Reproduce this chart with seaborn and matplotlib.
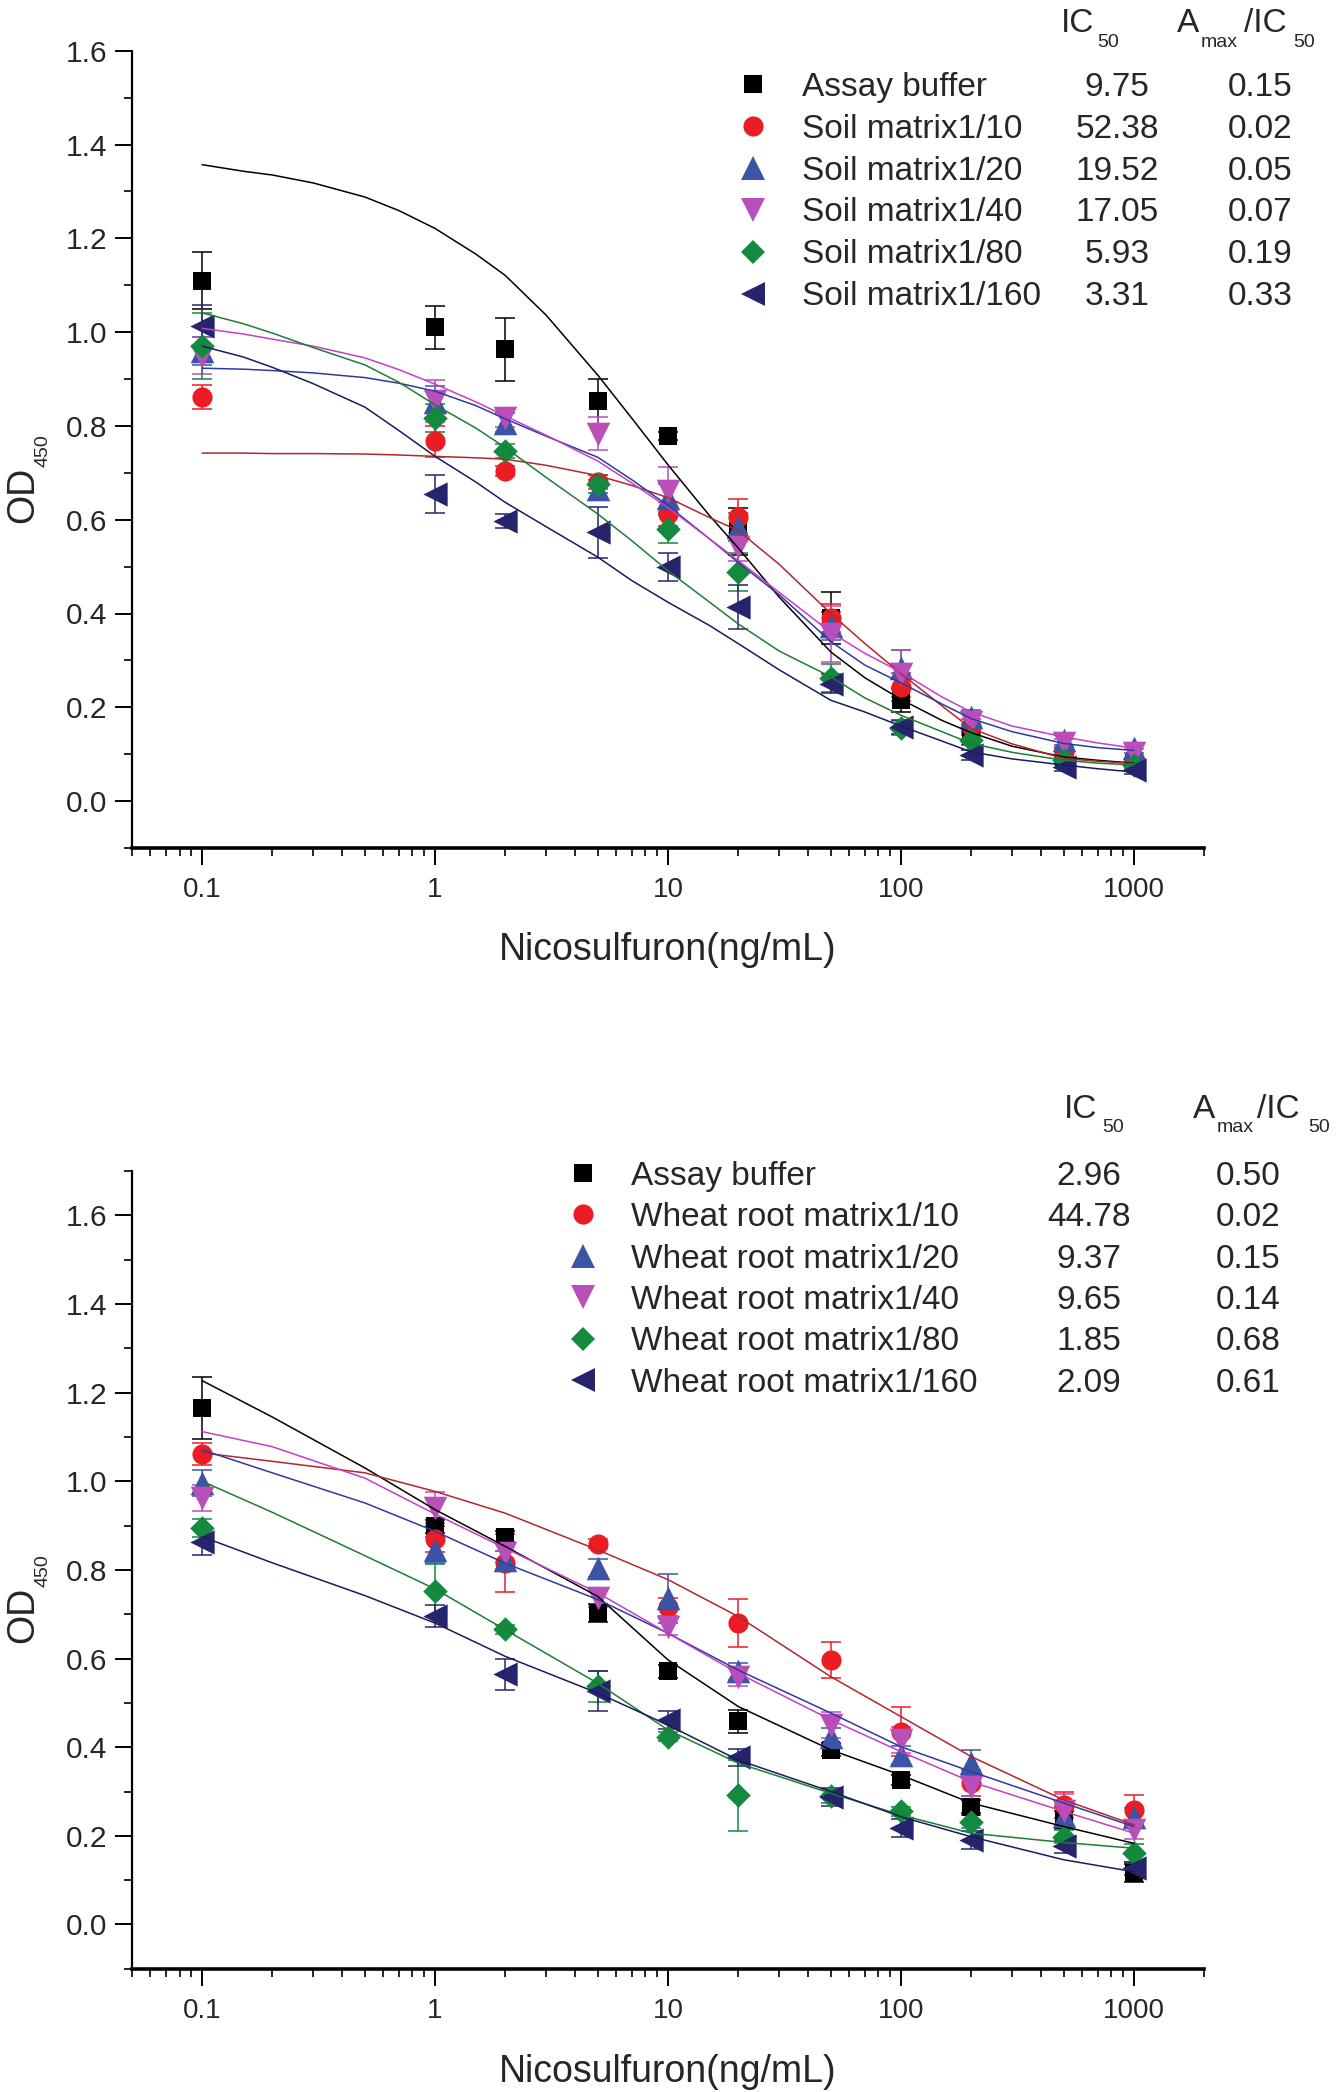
import numpy as np
import matplotlib
matplotlib.use("Agg")
import matplotlib.pyplot as plt
import seaborn as sns
from matplotlib.lines import Line2D
from matplotlib.ticker import FixedLocator, FixedFormatter, LogLocator, MultipleLocator, NullFormatter

# ---------------- data ----------------
conc = [0.1, 1, 2, 5, 10, 20, 50, 100, 200, 500, 1000]
soil_fit_conc = [0.1, 0.15, 0.2, 0.3, 0.5, 0.7, 1, 1.5, 2, 3, 5, 7, 10, 15, 20, 30,
                 50, 70, 100, 150, 200, 300, 500, 700, 1000]
wheat_fit_conc = [0.1, 0.2, 0.5, 1, 2, 5, 10, 20, 50, 100, 200, 500, 1000]
x_tick_values = [0.1, 1, 10, 100, 1000]
x_tick_labels = ["0.1", "1", "10", "100", "1000"]
y_tick_values = [0.0, 0.2, 0.4, 0.6, 0.8, 1.0, 1.2, 1.4, 1.6]
y_tick_labels = ["0.0", "0.2", "0.4", "0.6", "0.8", "1.0", "1.2", "1.4", "1.6"]

# Top panel: soil matrix
soil_series = ["Assay buffer", "Soil matrix1/10", "Soil matrix1/20",
               "Soil matrix1/40", "Soil matrix1/80", "Soil matrix1/160"]
soil_ic50 = ["9.75", "52.38", "19.52", "17.05", "5.93", "3.31"]
soil_ratio = ["0.15", "0.02", "0.05", "0.07", "0.19", "0.33"]

soil_mean_buffer = [1.110, 1.010, 0.963, 0.853, 0.778, 0.575, 0.390, 0.215, 0.138, 0.088, 0.081]
soil_err_buffer = [0.060, 0.045, 0.067, 0.048, 0.008, 0.050, 0.055, 0.025, 0.012, 0.008, 0.008]
soil_fit_buffer = [1.357, 1.343, 1.335, 1.318, 1.288, 1.259, 1.221, 1.166, 1.121, 1.036, 0.908,
                   0.816, 0.717, 0.610, 0.540, 0.435, 0.318, 0.263, 0.217, 0.172, 0.146,
                   0.117, 0.094, 0.087, 0.081]

soil_mean_10 = [0.862, 0.767, 0.704, 0.680, 0.612, 0.605, 0.390, 0.243, 0.160, 0.105, 0.084]
soil_err_10 = [0.025, 0.033, 0.010, 0.015, 0.025, 0.040, 0.030, 0.030, 0.015, 0.010, 0.008]
soil_fit_10 = [0.742, 0.742, 0.741, 0.741, 0.740, 0.738, 0.735, 0.732, 0.729, 0.716, 0.694,
               0.673, 0.647, 0.605, 0.577, 0.505, 0.400, 0.336, 0.272, 0.203, 0.155,
               0.122, 0.091, 0.085, 0.080]

soil_mean_20 = [0.960, 0.850, 0.807, 0.665, 0.647, 0.584, 0.374, 0.283, 0.180, 0.130, 0.113]
soil_err_20 = [0.030, 0.035, 0.020, 0.020, 0.030, 0.030, 0.030, 0.040, 0.015, 0.010, 0.010]
soil_fit_20 = [0.923, 0.921, 0.918, 0.913, 0.903, 0.891, 0.874, 0.843, 0.815, 0.778, 0.733,
               0.685, 0.630, 0.560, 0.509, 0.440, 0.340, 0.290, 0.252, 0.207, 0.176,
               0.148, 0.123, 0.114, 0.108]

soil_mean_40 = [0.950, 0.853, 0.817, 0.783, 0.662, 0.541, 0.357, 0.272, 0.169, 0.123, 0.102]
soil_err_40 = [0.040, 0.045, 0.020, 0.035, 0.050, 0.030, 0.060, 0.050, 0.020, 0.010, 0.010]
soil_fit_40 = [1.008, 0.996, 0.985, 0.970, 0.945, 0.920, 0.889, 0.851, 0.821, 0.780, 0.725,
               0.678, 0.626, 0.560, 0.513, 0.445, 0.360, 0.315, 0.275, 0.222, 0.190,
               0.160, 0.137, 0.124, 0.113]

soil_mean_80 = [0.970, 0.817, 0.747, 0.676, 0.581, 0.488, 0.262, 0.155, 0.130, 0.087, 0.077]
soil_err_80 = [0.070, 0.030, 0.015, 0.020, 0.030, 0.040, 0.030, 0.015, 0.010, 0.008, 0.008]
soil_fit_80 = [1.041, 1.018, 0.998, 0.967, 0.930, 0.893, 0.845, 0.795, 0.754, 0.690, 0.612,
               0.555, 0.491, 0.425, 0.378, 0.320, 0.265, 0.220, 0.183, 0.148, 0.123,
               0.104, 0.087, 0.081, 0.077]

soil_mean_160 = [1.013, 0.655, 0.598, 0.573, 0.499, 0.413, 0.250, 0.158, 0.098, 0.073, 0.066]
soil_err_160 = [0.045, 0.040, 0.015, 0.055, 0.030, 0.047, 0.020, 0.015, 0.010, 0.008, 0.008]
soil_fit_160 = [0.970, 0.947, 0.925, 0.890, 0.840, 0.790, 0.735, 0.680, 0.637, 0.585, 0.520,
                0.470, 0.424, 0.375, 0.336, 0.280, 0.215, 0.190, 0.160, 0.128, 0.105,
                0.090, 0.077, 0.069, 0.062]

# Bottom panel: wheat root matrix
wheat_series = ["Assay buffer", "Wheat root matrix1/10", "Wheat root matrix1/20",
                "Wheat root matrix1/40", "Wheat root matrix1/80", "Wheat root matrix1/160"]
wheat_ic50 = ["2.96", "44.78", "9.37", "9.65", "1.85", "2.09"]
wheat_ratio = ["0.50", "0.02", "0.15", "0.14", "0.68", "0.61"]

wheat_mean_buffer = [1.165, 0.898, 0.875, 0.703, 0.571, 0.458, 0.394, 0.326, 0.266, 0.235, 0.116]
wheat_err_buffer = [0.070, 0.015, 0.012, 0.020, 0.015, 0.025, 0.015, 0.012, 0.015, 0.020, 0.020]
wheat_fit_buffer = [1.227, 1.145, 1.030, 0.936, 0.853, 0.740, 0.597, 0.492, 0.394, 0.337, 0.274, 0.221, 0.183]

wheat_mean_10 = [1.062, 0.870, 0.815, 0.859, 0.717, 0.680, 0.597, 0.435, 0.319, 0.270, 0.258]
wheat_err_10 = [0.025, 0.030, 0.065, 0.010, 0.020, 0.055, 0.040, 0.055, 0.030, 0.030, 0.034]
wheat_fit_10 = [1.064, 1.045, 1.019, 0.977, 0.928, 0.845, 0.778, 0.695, 0.559, 0.469, 0.379, 0.281, 0.225]

wheat_mean_20 = [0.996, 0.845, 0.823, 0.804, 0.736, 0.571, 0.424, 0.383, 0.364, 0.245, 0.243]
wheat_err_20 = [0.030, 0.030, 0.020, 0.020, 0.055, 0.020, 0.020, 0.020, 0.030, 0.020, 0.020]
wheat_fit_20 = [1.071, 1.019, 0.951, 0.887, 0.815, 0.733, 0.657, 0.574, 0.477, 0.401, 0.345, 0.274, 0.221]

wheat_mean_40 = [0.962, 0.940, 0.838, 0.737, 0.672, 0.559, 0.450, 0.416, 0.311, 0.255, 0.213]
wheat_err_40 = [0.030, 0.035, 0.020, 0.020, 0.020, 0.020, 0.030, 0.030, 0.020, 0.040, 0.020]
wheat_fit_40 = [1.112, 1.078, 1.007, 0.926, 0.849, 0.748, 0.657, 0.567, 0.462, 0.390, 0.322, 0.255, 0.206]

wheat_mean_80 = [0.894, 0.753, 0.666, 0.537, 0.424, 0.292, 0.290, 0.255, 0.232, 0.198, 0.161]
wheat_err_80 = [0.020, 0.060, 0.010, 0.035, 0.010, 0.080, 0.015, 0.010, 0.015, 0.015, 0.020]
wheat_fit_80 = [1.000, 0.930, 0.832, 0.757, 0.665, 0.544, 0.439, 0.364, 0.296, 0.247, 0.206, 0.185, 0.172]

wheat_mean_160 = [0.864, 0.696, 0.565, 0.526, 0.462, 0.377, 0.288, 0.217, 0.191, 0.176, 0.127]
wheat_err_160 = [0.030, 0.025, 0.035, 0.045, 0.020, 0.020, 0.020, 0.020, 0.020, 0.015, 0.015]
wheat_fit_160 = [0.875, 0.816, 0.742, 0.680, 0.605, 0.522, 0.450, 0.371, 0.300, 0.243, 0.198, 0.146, 0.119]

# ---------------- style ----------------
sns.set_theme(style="ticks")
plt.rcParams["font.family"] = ["Liberation Sans", "DejaVu Sans"]

W, H = 1339, 2092
fig = plt.figure(figsize=(W / 100, H / 100), dpi=100)


def fx(x):
    return x / W


def fy(y):
    return 1 - y / H


marker_styles = ["s", "o", "^", "v", "D", "<"]
marker_sizes = [12.8, 14.5, 17, 17, 12.5, 17.5]
point_colors = ["#000000", "#EC1C24", "#3B54A5", "#B94FB9", "#148A3E", "#27246E"]
line_colors = ["#000000", "#B3262B", "#2E3A9E", "#C241C4", "#1E7D32", "#1B1A5E"]

panels = [
    dict(rect=(132, 50.7, 1204, 848), ylim=(-0.1, 1.6), fit_x=soil_fit_conc,
         names=soil_series, ic50=soil_ic50, ratio=soil_ratio,
         means=[soil_mean_buffer, soil_mean_10, soil_mean_20, soil_mean_40, soil_mean_80, soil_mean_160],
         errs=[soil_err_buffer, soil_err_10, soil_err_20, soil_err_40, soil_err_80, soil_err_160],
         fits=[soil_fit_buffer, soil_fit_10, soil_fit_20, soil_fit_40, soil_fit_80, soil_fit_160],
         row0=84, step=41.9, mx=753, tx=802, icx=1117, rx=1260,
         head=dict(ic=1061, ic50=1097, a=1177, amax=1201, slash=1244, s50=1293, base=32, sub=47),
         ylab=(33, 523, 47, 467), xlab=960),
    dict(rect=(132, 1171, 1204, 1968.8), ylim=(-0.1, 1.7), fit_x=wheat_fit_conc,
         names=wheat_series, ic50=wheat_ic50, ratio=wheat_ratio,
         means=[wheat_mean_buffer, wheat_mean_10, wheat_mean_20, wheat_mean_40, wheat_mean_80, wheat_mean_160],
         errs=[wheat_err_buffer, wheat_err_10, wheat_err_20, wheat_err_40, wheat_err_80, wheat_err_160],
         fits=[wheat_fit_buffer, wheat_fit_10, wheat_fit_20, wheat_fit_40, wheat_fit_80, wheat_fit_160],
         row0=1173, step=41.4, mx=583, tx=631, icx=1089, rx=1248,
         head=dict(ic=1064, ic50=1102, a=1193, amax=1217, slash=1257, s50=1308, base=1118, sub=1132),
         ylab=(33, 1643, 47, 1587), xlab=2082),
]

for p in panels:
    x0, y0, x1, y1 = p["rect"]
    ax = fig.add_axes([fx(x0), fy(y1), (x1 - x0) / W, (y1 - y0) / H])
    ax.set_facecolor("white")
    for i in range(6):
        ax.errorbar(conc, p["means"][i], yerr=p["errs"][i], fmt="none",
                    ecolor=point_colors[i], elinewidth=1.1, capsize=7, capthick=1.1,
                    zorder=2)
        sns.scatterplot(x=conc, y=p["means"][i], marker=marker_styles[i],
                        s=marker_sizes[i] ** 2, color=point_colors[i], edgecolor=point_colors[i],
                        linewidth=0, ax=ax, legend=False, zorder=3 + i * 0.01)
    for i in range(6):
        sns.lineplot(x=p["fit_x"], y=p["fits"][i], color=line_colors[i], linewidth=1.1,
                     ax=ax, legend=False, sort=False, estimator=None, zorder=4)

    ax.set_xscale("log")
    ax.set_xlim(0.05, 2000)
    ax.set_ylim(*p["ylim"])
    ax.xaxis.set_major_locator(FixedLocator(x_tick_values))
    ax.xaxis.set_major_formatter(FixedFormatter(x_tick_labels))
    ax.xaxis.set_minor_locator(LogLocator(base=10, subs=np.arange(2, 10), numticks=30))
    ax.xaxis.set_minor_formatter(NullFormatter())
    ax.yaxis.set_major_locator(FixedLocator(y_tick_values))
    ax.yaxis.set_major_formatter(FixedFormatter(y_tick_labels))
    ax.yaxis.set_minor_locator(MultipleLocator(0.1))
    ax.set_xlabel("")
    ax.set_ylabel("")
    ax.tick_params(axis="both", which="major", direction="out", length=12, width=1.4,
                   color="black")
    ax.tick_params(axis="both", which="minor", direction="out", length=6, width=1.2,
                   color="black")
    ax.tick_params(axis="x", which="major", labelsize=20, pad=9)
    ax.tick_params(axis="y", which="major", labelsize=21.5, pad=6)
    for side in ["top", "right"]:
        ax.spines[side].set_visible(False)
    ax.spines["left"].set_linewidth(1.6)
    ax.spines["bottom"].set_linewidth(2.6)
    ax.spines["left"].set_color("black")
    ax.spines["bottom"].set_color("black")
    ax.grid(False)

    # axis labels
    lx, ly, sx, sy = p["ylab"]
    fig.text(fx(lx), fy(ly), "OD", fontsize=27, rotation=90, rotation_mode="anchor",
             ha="left", va="baseline")
    fig.text(fx(sx), fy(sy), "450", fontsize=14, rotation=90, rotation_mode="anchor",
             ha="left", va="baseline")
    fig.text(fx((x0 + x1) / 2), fy(p["xlab"]), "Nicosulfuron(ng/mL)", fontsize=27,
             ha="center", va="baseline")

    # legend table header
    hd = p["head"]
    fig.text(fx(hd["ic"]), fy(hd["base"]), "IC", fontsize=24, ha="left", va="baseline")
    fig.text(fx(hd["ic50"]), fy(hd["sub"]), "50", fontsize=14, ha="left", va="baseline")
    fig.text(fx(hd["a"]), fy(hd["base"]), "A", fontsize=24, ha="left", va="baseline")
    fig.text(fx(hd["amax"]), fy(hd["sub"]), "max", fontsize=14, ha="left", va="baseline")
    fig.text(fx(hd["slash"]), fy(hd["base"]), "/IC", fontsize=24, ha="left", va="baseline")
    fig.text(fx(hd["s50"]), fy(hd["sub"]), "50", fontsize=14, ha="left", va="baseline")

    # legend rows
    for i in range(6):
        yc = p["row0"] + i * p["step"]
        fig.add_artist(Line2D([fx(p["mx"])], [fy(yc)], transform=fig.transFigure,
                              marker=marker_styles[i], markersize=marker_sizes[i],
                              color=point_colors[i], markeredgewidth=0, linestyle="none"))
        fig.text(fx(p["tx"]), fy(yc + 11.7), p["names"][i], fontsize=24,
                 ha="left", va="baseline")
        fig.text(fx(p["icx"]), fy(yc + 11.7), p["ic50"][i], fontsize=24,
                 ha="center", va="baseline")
        fig.text(fx(p["rx"]), fy(yc + 11.7), p["ratio"][i], fontsize=24,
                 ha="center", va="baseline")

fig.savefig("out.png", dpi=100, facecolor="white")
